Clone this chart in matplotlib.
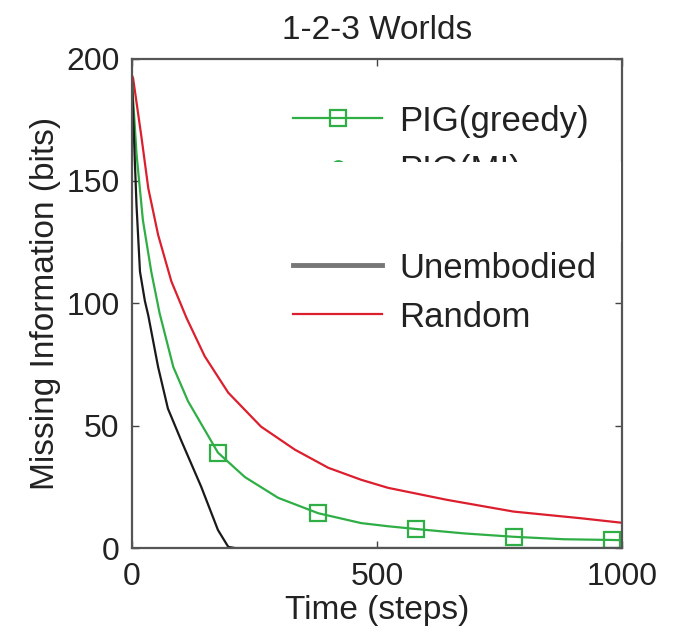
import matplotlib.pyplot as plt
from matplotlib.patches import Rectangle
from matplotlib.lines import Line2D

plt.rcParams["font.family"] = ["Liberation Sans", "DejaVu Sans"]

# --- values ---
green_steps = [0, 9, 22, 39, 56, 84, 114, 175, 230, 298, 380, 467, 522, 578,
               676, 778, 880, 979, 1000]
green_bits = [190, 161, 134, 113, 96, 74, 60, 39, 29, 20.5, 14.2, 10.2, 8.9, 7.8,
              6.0, 4.6, 3.6, 3.3, 3.2]
green_marks = [7, 10, 13, 15, 17]  # indices carrying the square markers

red_steps = [0, 2, 19, 33, 53, 80, 111, 148, 196, 263, 332, 400, 467, 522,
             642, 778, 914, 1000]
red_bits = [193, 192, 168, 147, 128, 109, 94, 78.4, 63.5, 49.6, 40.2, 32.8, 27.9,
            24.6, 19.7, 14.9, 12.2, 10.3]

black_steps = [0, 5, 9, 16, 26, 33, 53, 73, 100, 141, 175, 196, 210, 1000]
black_bits = [190, 161, 140, 113, 101, 95, 74, 57, 44, 25, 7.4, 0.5, 0, 0]

GREEN = "#2fae45"
RED = "#dc1f2e"
BLACK = "#1a1a1a"

fig = plt.figure(figsize=(6.81, 6.44), dpi=100)
ax = fig.add_axes([0.194, 0.149, 0.720, 0.760])

ax.plot(red_steps, red_bits, color=RED, lw=1.6)
ax.plot(green_steps, green_bits, color=GREEN, lw=1.6, marker="s", ms=12,
        mfc="none", mew=1.6, markevery=green_marks)
ax.plot(black_steps, black_bits, color=BLACK, lw=1.6)

ax.set_xlim(0, 1000)
ax.set_ylim(0, 200)
ax.set_xticks([0, 500, 1000])
ax.set_yticks([0, 50, 100, 150, 200])
ax.tick_params(direction="in", length=5, width=1, colors="#444444",
               labelcolor="#222222", labelsize=23, top=True, right=True)
ax.tick_params(axis="x", pad=10)
ax.tick_params(axis="y", pad=9)
for sp in ax.spines.values():
    sp.set_color("#555555")
    sp.set_linewidth(1.6)

ax.set_xlabel("Time (steps)", fontsize=24, color="#222222", labelpad=2)
ax.set_ylabel("Missing Information (bits)", fontsize=24, color="#222222", labelpad=4)
ax.set_title("1-2-3 Worlds", fontsize=24, color="#222222", pad=14)

handles = [
    Line2D([], [], color=GREEN, lw=1.6, marker="s", ms=11, mfc="none", mew=1.6),
    Line2D([], [], color=GREEN, lw=1.6, marker="o", ms=9, mfc="none", mew=1.6),
    Line2D([], [], color="none"),
    Line2D([], [], color="#777777", lw=3.5),
    Line2D([], [], color=RED, lw=1.6),
]
labels = ["PIG(greedy)", "PIG(MI)", " ", "Unembodied", "Random"]
ax.legend(handles, labels, loc="upper left", bbox_to_anchor=(0.329, 0.906),
          frameon=False, fontsize=25, handlelength=2.55, handletextpad=0.5,
          labelspacing=0.46, borderpad=0, borderaxespad=0, labelcolor="#222222")

# white patch covering part of the legend, as in the original figure
ax.add_patch(Rectangle((0.25, 0.625), 0.748, 0.163, transform=ax.transAxes,
                       facecolor="white", edgecolor="none", zorder=10))

fig.savefig("out.png", dpi=100)
